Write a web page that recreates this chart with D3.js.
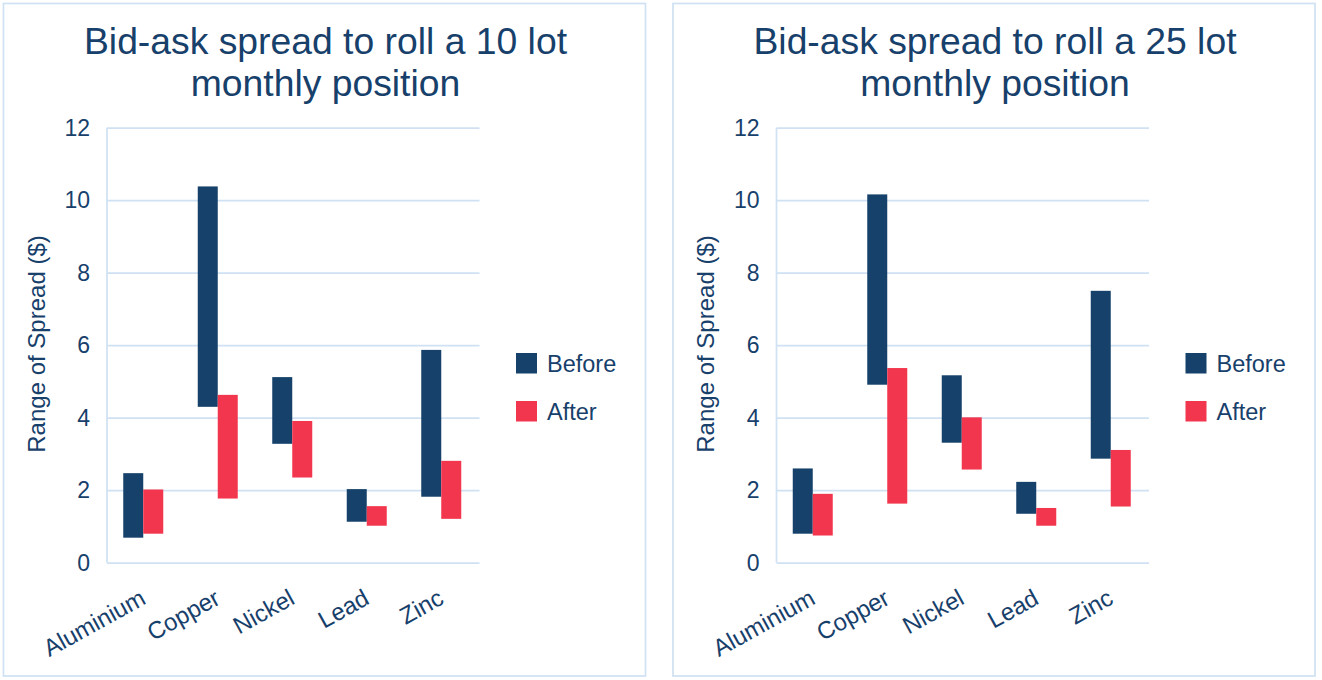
<!DOCTYPE html>
<html>
<head>
<meta charset="utf-8">
<script src="https://cdn.jsdelivr.net/npm/d3@7"></script>
<style>
  html, body { margin: 0; padding: 0; background: #ffffff; }
  svg { display: block; }
  text { font-family: "Liberation Sans", Arial, sans-serif; }
</style>
</head>
<body>
<svg id="chart" width="1322" height="680"></svg>
<script>
// ---------- DATA ----------
const categories = ["Aluminium", "Copper", "Nickel", "Lead", "Zinc"];
const seriesNames = ["Before", "After"];
const yTicks = [0, 2, 4, 6, 8, 10, 12];
const yAxisTitle = "Range of Spread ($)";

const title10 = ["Bid-ask spread to roll a 10 lot", "monthly position"];
const before10Low  = [0.69, 4.30, 3.28, 1.13, 1.82];
const before10High = [2.47, 10.38, 5.12, 2.03, 5.87];
const after10Low   = [0.80, 1.77, 2.35, 1.02, 1.21];
const after10High  = [2.02, 4.63, 3.91, 1.56, 2.81];

const title25 = ["Bid-ask spread to roll a 25 lot", "monthly position"];
const before25Low  = [0.80, 4.91, 3.31, 1.35, 2.87];
const before25High = [2.60, 10.16, 5.17, 2.23, 7.50];
const after25Low   = [0.75, 1.63, 2.57, 1.02, 1.55];
const after25High  = [1.90, 5.37, 4.01, 1.51, 3.11];

// ---------- STYLE ----------
const NAVY = "#15416a";
const RED = "#f2364d";
const TEXT = "#17406b";
const GRID = "#cfe1f3";
const colors = { Before: NAVY, After: RED };

const svg = d3.select("#chart");

function drawPanel(px, titleLines, series) {
  const g = svg.append("g").attr("transform", `translate(${px},0)`);
  const panelW = 642, panelTop = 3.5, panelH = 672.5;

  g.append("rect")
    .attr("x", 0).attr("y", panelTop)
    .attr("width", panelW).attr("height", panelH)
    .attr("fill", "#fff").attr("stroke", GRID).attr("stroke-width", 1.7);

  // Title
  g.append("text")
    .attr("x", panelW / 2 + 1).attr("y", 54)
    .attr("text-anchor", "middle")
    .attr("fill", TEXT).attr("font-size", 37.3)
    .selectAll("tspan").data(titleLines).join("tspan")
    .attr("x", panelW / 2 + 1)
    .attr("dy", (d, i) => i === 0 ? 0 : 42)
    .text(d => d);

  const plotL = 103.5, plotW = 372.5, plotTop = 127.7, plotBot = 562.7;
  const y = d3.scaleLinear().domain([0, 12]).range([plotBot, plotTop]);
  const x = d3.scaleBand().domain(categories).range([plotL, plotL + plotW]).padding(0);
  const bw = x.bandwidth();
  const xs = d3.scaleBand().domain(seriesNames).range([bw / 2 - 21, bw / 2 + 19]).padding(0);

  // gridlines
  const yAxis = d3.axisLeft(y).tickValues(yTicks).tickSize(-plotW).tickPadding(17).tickFormat(d3.format("d"));
  const ga = g.append("g").attr("transform", `translate(${plotL},0)`).call(yAxis);
  ga.select(".domain").remove();
  ga.selectAll(".tick line").attr("stroke", GRID).attr("stroke-width", 1.7);
  ga.selectAll(".tick text").attr("fill", TEXT).attr("font-size", 23)
    .attr("font-family", "'Liberation Sans', Arial, sans-serif");

  // vertical axis line
  g.append("line")
    .attr("x1", plotL).attr("x2", plotL)
    .attr("y1", plotTop).attr("y2", plotBot)
    .attr("stroke", GRID).attr("stroke-width", 1.7);

  // bars
  seriesNames.forEach(s => {
    const lows = series[s].low, highs = series[s].high;
    g.append("g").selectAll("rect").data(categories).join("rect")
      .attr("x", c => x(c) + xs(s))
      .attr("width", xs.bandwidth())
      .attr("y", (c, i) => y(highs[i]))
      .attr("height", (c, i) => y(lows[i]) - y(highs[i]))
      .attr("fill", colors[s]);
  });

  // x labels
  g.append("g").selectAll("text").data(categories).join("text")
    .attr("transform", c => `translate(${x(c) + bw / 2 + 3},603) rotate(-29)`)
    .attr("text-anchor", "end")
    .attr("fill", TEXT).attr("font-size", 24)
    .text(c => c);

  // y axis title
  g.append("text")
    .attr("transform", `translate(${41},344) rotate(-90)`)
    .attr("text-anchor", "middle")
    .attr("fill", TEXT).attr("font-size", 24)
    .text(yAxisTitle);

  // legend
  const lg = g.append("g").selectAll("g").data(seriesNames).join("g")
    .attr("transform", (d, i) => `translate(512.5,${353 + i * 48})`);
  lg.append("rect").attr("width", 21).attr("height", 20.5).attr("fill", d => colors[d]);
  lg.append("text").attr("x", 31).attr("y", 19)
    .attr("fill", TEXT).attr("font-size", 23.5).text(d => d);
}

drawPanel(3.5, title10, {
  Before: { low: before10Low, high: before10High },
  After: { low: after10Low, high: after10High }
});
drawPanel(673, title25, {
  Before: { low: before25Low, high: before25High },
  After: { low: after25Low, high: after25High }
});
</script>
</body>
</html>
